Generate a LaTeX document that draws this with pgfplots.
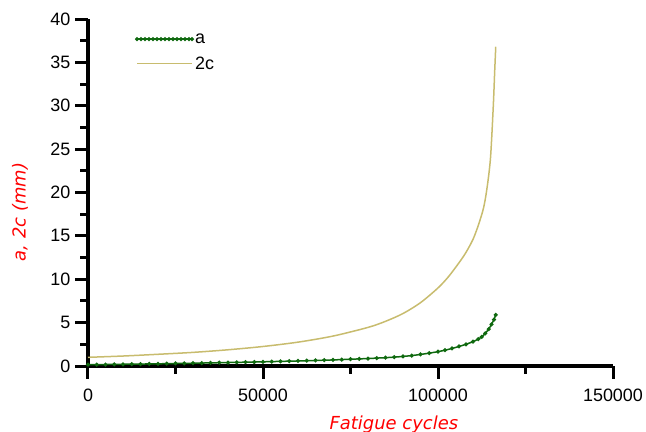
\documentclass[border=0pt]{standalone}
\usepackage{pgfplots}
\pgfplotsset{compat=1.18}
\usepackage{fontspec}
\setmainfont{Liberation Sans}
\newfontfamily\verd{DejaVu Sans}
\usetikzlibrary{calc}
\definecolor{agreen}{RGB}{15,105,15}
\definecolor{khaki}{RGB}{200,188,110}
\pgfplotsset{
  legA/.style={legend image code/.code={\draw[##1] plot coordinates {(0bp,0bp) (4bp,0bp) (8bp,0bp) (12bp,0bp) (16bp,0bp) (20bp,0bp) (24bp,0bp) (28bp,0bp) (32bp,0bp) (36bp,0bp) (40bp,0bp) (44bp,0bp) (48bp,0bp) (52bp,0bp) (55bp,0bp)};}},
  legC/.style={legend image code/.code={\draw[##1] (0bp,0bp) -- (55bp,0bp);}},
}
\begin{document}
\begin{tikzpicture}
\begin{axis}[
  scale only axis, width=525bp, height=347bp,
  xmin=0, xmax=150000, ymin=0, ymax=40,
  clip=false,
  axis x line=bottom, axis y line=left,
  every outer x axis line/.append style={line width=3.6bp, black, -},
  every outer y axis line/.append style={line width=3.6bp, black, -},
  every inner x axis line/.append style={line width=3.6bp, black, -},
  every inner y axis line/.append style={line width=3.6bp, black, -},
  xtick={0,50000,100000,150000},
  ytick={0,5,...,40},
  every major tick/.append style={draw=none},
  every minor tick/.append style={draw=none},
  yticklabel shift=12bp, xticklabel shift=17bp,
  scaled x ticks=false,
  x tick label style={/pgf/number format/.cd, fixed, 1000 sep={}},
  /pgf/number format/assume math mode=true,
  tick label style={font=\fontsize{18}{18}\selectfont},
  xlabel={\verd\itshape Fatigue cycles},
  xlabel style={font=\fontsize{18}{18}\selectfont, text=red, at={(axis cs:87400,0)}, anchor=base, yshift=-63bp},
  ylabel={\verd\itshape a, 2c (mm)},
  ylabel style={font=\fontsize{18}{18}\selectfont, text=red, at={(rel axis cs:0,0.444)}, anchor=center, yshift=68bp},
  legend style={draw=none, fill=none, at={(rel axis cs:0.085,0.97)}, anchor=north west, font=\fontsize{18}{18}\selectfont, row sep=8bp},
  legend cell align=left,
]
\addplot[agreen, line width=1.5bp, mark=*, mark size=1.2bp, mark options={solid, fill=agreen}, legA] table {
x y
0 0.15
2500 0.16
5000 0.17
7500 0.19
10000 0.2
12500 0.21
15000 0.22
17500 0.24
20000 0.25
22500 0.27
25000 0.29
27500 0.30
30000 0.32
32500 0.34
35000 0.36
37500 0.38
40000 0.40
42500 0.42
45000 0.44
47500 0.46
50000 0.48
52500 0.51
55000 0.53
57500 0.56
60000 0.58
62500 0.61
65000 0.64
67500 0.67
70000 0.70
72500 0.74
75000 0.78
77500 0.82
80000 0.86
82500 0.91
85000 0.96
87500 1.02
90000 1.10
92500 1.20
95000 1.33
97500 1.48
100000 1.65
102000 1.82
104000 2.02
106000 2.25
108000 2.50
110000 2.80
111500 3.10
112500 3.35
113500 3.75
114500 4.25
115300 4.80
116000 5.35
116500 5.90
};
\addlegendentry{a}
\addplot[khaki, line width=1.5bp, smooth, legC] table {
x y
0 1.0
10000 1.15
20000 1.35
30000 1.57
40000 1.87
50000 2.25
60000 2.75
70000 3.45
80000 4.45
85000 5.15
90000 6.05
95000 7.3
100000 9.0
103000 10.3
106000 11.9
108000 13.1
110000 14.6
111500 16.2
113000 18.2
114000 20.5
115000 24.0
115800 30.0
116200 34.0
116500 36.8
};
\addlegendentry{2c}
\pgfplotsinvokeforeach{0,50000,100000,150000}{
  \draw[line width=3bp, black] (axis cs:#1,0) -- ++(0,-13bp);}
\pgfplotsinvokeforeach{25000,75000,125000}{
  \draw[line width=3bp, black] (axis cs:#1,0) -- ++(0,-8bp);}
\pgfplotsinvokeforeach{0,5,10,15,20,25,30,35,40}{
  \draw[line width=3bp, black] (axis cs:0,#1) -- ++(-13bp,0);}
\pgfplotsinvokeforeach{2.5,7.5,12.5,17.5,22.5,27.5,32.5,37.5}{
  \draw[line width=3bp, black] (axis cs:0,#1) -- ++(-8bp,0);}
\end{axis}
\pgfresetboundingbox
\useasboundingbox ($(current axis.origin)+(-88bp,-66bp)$) rectangle ($(current axis.origin)+(558bp,366bp)$);
\end{tikzpicture}
\end{document}
